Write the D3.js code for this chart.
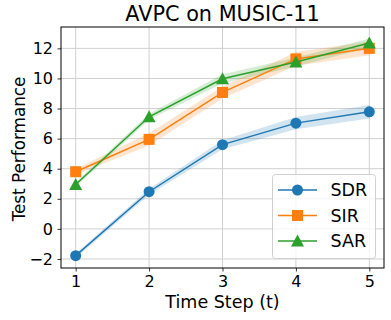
<!DOCTYPE html>
<html><head><meta charset="utf-8">
<script src="https://cdn.jsdelivr.net/npm/d3@7"></script>
<style>body{margin:0;background:#fff}svg{display:block}text{font-family:"DejaVu Sans",sans-serif}</style>
</head><body><svg id="c" width="391" height="320"></svg>
<script>
const steps = [1, 2, 3, 4, 5];
const sdr = [-1.78, 2.47, 5.6, 7.03, 7.78];
const sir = [3.8, 5.95, 9.07, 11.3, 12.0];
const sar = [2.95, 7.45, 9.98, 11.1, 12.35];
const sdrErr = [0.15, 0.2, 0.3, 0.4, 0.45];
const sirErr = [0.2, 0.4, 0.4, 0.45, 0.45];
const sarErr = [0.15, 0.2, 0.3, 0.3, 0.3];
const yTicks = [-2, 0, 2, 4, 6, 8, 10, 12];
const seriesNames = ["SDR", "SIR", "SAR"];
const colors = ["#1f77b4", "#ff7f0e", "#2ca02c"];
const markers = ["circle", "square", "triangle"];

const svg = d3.select("#c");
const m = {l: 61, r: 384, t: 27, b: 268};
const x = d3.scaleLinear().domain([0.8, 5.2]).range([m.l, m.r]);
const y = d3.scaleLinear().domain([-2.6, 13.42]).range([m.b, m.t]);

// grid
svg.append("g").selectAll("line").data(steps).join("line")
  .attr("x1", d => x(d)).attr("x2", d => x(d)).attr("y1", m.t).attr("y2", m.b)
  .attr("stroke", "#d0d0d0").attr("stroke-width", 1);
svg.append("g").selectAll("line").data(yTicks).join("line")
  .attr("y1", d => y(d)).attr("y2", d => y(d)).attr("x1", m.l).attr("x2", m.r)
  .attr("stroke", "#d0d0d0").attr("stroke-width", 1);

const data = [
  {v: sdr, e: sdrErr}, {v: sir, e: sirErr}, {v: sar, e: sarErr}
];
const area = d3.area().x((d, i) => x(steps[i])).y0(d => y(d[0])).y1(d => y(d[1]));
const line = d3.line().x((d, i) => x(steps[i])).y(d => y(d));

function drawMarker(g, type, cx, cy, color) {
  if (type === "circle") g.append("circle").attr("cx", cx).attr("cy", cy).attr("r", 5.5).attr("fill", color);
  else if (type === "square") g.append("rect").attr("x", cx - 5.5).attr("y", cy - 5.5).attr("width", 11).attr("height", 11).attr("fill", color);
  else g.append("path").attr("d", `M${cx},${cy - 6.5}L${cx + 6.5},${cy + 5.5}L${cx - 6.5},${cy + 5.5}Z`).attr("fill", color);
}

data.forEach((s, k) => {
  svg.append("path").datum(s.v.map((v, i) => [v - s.e[i], v + s.e[i]]))
    .attr("d", area).attr("fill", colors[k]).attr("fill-opacity", 0.2);
});
data.forEach((s, k) => {
  const g = svg.append("g");
  g.append("path").datum(s.v).attr("d", line).attr("fill", "none").attr("stroke", colors[k]).attr("stroke-width", 1.5);
  s.v.forEach((v, i) => drawMarker(g, markers[k], x(steps[i]), y(v), colors[k]));
});

// axes
const xa = svg.append("g").attr("transform", `translate(0,${m.b})`)
  .call(d3.axisBottom(x).tickValues(steps).tickSize(3.5).tickPadding(4).tickFormat(d3.format("d")));
const ya = svg.append("g").attr("transform", `translate(${m.l},0)`)
  .call(d3.axisLeft(y).tickValues(yTicks).tickSize(3.5).tickPadding(4.5).tickFormat(d => d < 0 ? "\u2212" + Math.abs(d) : d));
[xa, ya].forEach(a => {
  a.select(".domain").remove();
  a.selectAll("text").attr("font-size", 16).attr("fill", "#000").attr("font-family", "DejaVu Sans");
  a.selectAll("line").attr("stroke", "#000").attr("stroke-width", 0.8);
});
svg.append("rect").attr("x", m.l).attr("y", m.t).attr("width", m.r - m.l).attr("height", m.b - m.t)
  .attr("fill", "none").attr("stroke", "#000").attr("stroke-width", 1);

// labels
svg.append("text").attr("x", (m.l + m.r) / 2).attr("y", 21).attr("text-anchor", "middle")
  .attr("font-size", 20.8).text("AVPC on MUSIC-11");
svg.append("text").attr("x", (m.l + m.r) / 2).attr("y", 308).attr("text-anchor", "middle")
  .attr("font-size", 17.5).text("Time Step (t)");
svg.append("text").attr("transform", `translate(25,149) rotate(-90)`).attr("text-anchor", "middle")
  .attr("font-size", 16.8).text("Test Performance");

// legend
const lg = svg.append("g");
lg.append("rect").attr("x", 272.5).attr("y", 174.5).attr("width", 103).attr("height", 84).attr("rx", 3)
  .attr("fill", "#fff").attr("fill-opacity", 0.8).attr("stroke", "#d0d0d0");
seriesNames.forEach((n, k) => {
  const cy = 190 + k * 25.5;
  lg.append("line").attr("x1", 278).attr("x2", 317).attr("y1", cy).attr("y2", cy)
    .attr("stroke", colors[k]).attr("stroke-width", 1.5);
  drawMarker(lg, markers[k], 297.5, cy, colors[k]);
  lg.append("text").attr("x", 330.5).attr("y", cy + 6.3).attr("font-size", 17.5).text(n);
});
</script></body></html>
